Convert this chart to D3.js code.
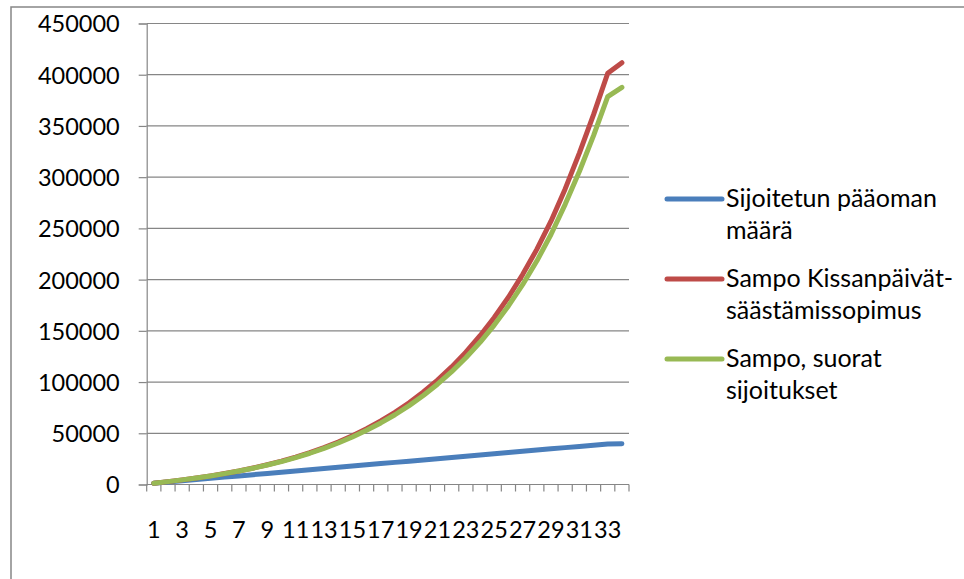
<!DOCTYPE html>
<html>
<head>
<meta charset="utf-8">
<script src="https://cdn.jsdelivr.net/npm/d3@7/dist/d3.min.js"></script>
<style>
  html, body { margin: 0; padding: 0; background: #fff; }
  svg { display: block; }
  text { font-family: Lato, "Open Sans", sans-serif; fill: #000; }
</style>
</head>
<body>
<svg id="chart" width="964" height="579"></svg>
<script>
// Years of saving
const categories = [1,2,3,4,5,6,7,8,9,10,11,12,13,14,15,16,17,18,19,20,21,22,23,24,25,26,27,28,29,30,31,32,33,34];

// Invested capital (euro)
const paaoma = [1200,2400,3600,4800,6000,7200,8400,9600,10800,12000,13200,14400,15600,16800,18000,19200,20400,21600,22800,24000,25200,26400,27600,28800,30000,31200,32400,33600,34800,36000,37200,38400,39600,39800];

// Sampo Kissanpäivät savings agreement
const kissanpaivat = [1300,2800,4500,6300,8400,10700,13200,16100,19300,22800,26700,31100,36000,41500,47600,54400,62000,70400,79800,90300,101900,114800,129200,145200,163000,182800,204900,229500,257000,288500,323500,361000,401400,411800];

// Sampo, direct investments
const suorat = [1300,2800,4500,6300,8300,10600,13100,15900,19000,22400,26300,30500,35300,40500,46400,52900,60100,68100,77000,86900,97900,110100,123700,138800,155600,174300,195000,218100,244000,273500,305500,340500,378600,387700];

const yTicks = [0,50000,100000,150000,200000,250000,300000,350000,400000,450000];
const xTickLabels = ["1","3","5","7","9","11","13","15","17","19","21","23","25","27","29","31","33"];

const seriesNames = ["Sijoitetun pääoman määrä", "Sampo Kissanpäivät-säästämissopimus", "Sampo, suorat sijoitukset"];
const legendLines = [["Sijoitetun pääoman", "määrä"], ["Sampo Kissanpäivät-", "säästämissopimus"], ["Sampo, suorat", "sijoitukset"]];
const seriesColors = ["#4A7EBB", "#BE4B48", "#98B954"];

const svg = d3.select("#chart");
const gridColor = "#868686";
const axisFont = 23.5;
const legendFont = 25;

// outer chart frame (runs past the right and bottom edge)
svg.append("rect")
  .attr("x", 11).attr("y", 7)
  .attr("width", 1100).attr("height", 700)
  .attr("fill", "none").attr("stroke", gridColor).attr("stroke-width", 1.5);

const plot = { left: 146.7, right: 629, top: 23.5, bottom: 484.5 };

const x = d3.scaleBand().domain(categories).range([plot.left, plot.right]).padding(0);
const y = d3.scaleLinear().domain([0, 450000]).range([plot.bottom, plot.top]);
const cx = c => x(c) + x.bandwidth() / 2;

// horizontal gridlines
svg.append("g").selectAll("line")
  .data(yTicks.filter(v => v > 0))
  .join("line")
  .attr("x1", plot.left).attr("x2", plot.right)
  .attr("y1", d => y(d)).attr("y2", d => y(d))
  .attr("stroke", gridColor).attr("stroke-width", 1.2);

// y axis
const yAxis = svg.append("g")
  .attr("transform", `translate(${plot.left},0)`)
  .call(d3.axisLeft(y).tickValues(yTicks).tickSize(8).tickPadding(19).tickFormat(d3.format("d")));
yAxis.select(".domain").attr("stroke", gridColor).attr("stroke-width", 1.2);
yAxis.selectAll(".tick line").attr("stroke", gridColor).attr("stroke-width", 1.2);
yAxis.selectAll(".tick text")
  .attr("font-size", axisFont).attr("font-family", "Lato, sans-serif").attr("fill", "#000")
  .attr("dy", "0.36em");

// x axis line with ticks on the category boundaries
const xg = svg.append("g");
xg.append("line")
  .attr("x1", plot.left).attr("x2", plot.right)
  .attr("y1", plot.bottom).attr("y2", plot.bottom)
  .attr("stroke", gridColor).attr("stroke-width", 1.2);
const boundaries = categories.map(c => x(c)).concat([plot.right]);
xg.selectAll("line.tk")
  .data(boundaries)
  .join("line").attr("class", "tk")
  .attr("x1", d => d).attr("x2", d => d)
  .attr("y1", plot.bottom).attr("y2", plot.bottom + 7)
  .attr("stroke", gridColor).attr("stroke-width", 1.2);
xg.selectAll("text")
  .data(xTickLabels)
  .join("text")
  .attr("x", d => cx(+d))
  .attr("y", 538)
  .attr("text-anchor", "middle")
  .attr("font-size", axisFont)
  .text(d => d);

// series lines
const allSeries = [paaoma, kissanpaivat, suorat];
const line = d3.line().x((d, i) => cx(categories[i])).y(d => y(d));
svg.append("g").selectAll("path")
  .data(allSeries)
  .join("path")
  .attr("d", d => line(d))
  .attr("fill", "none")
  .attr("stroke", (d, i) => seriesColors[i])
  .attr("stroke-width", 5)
  .attr("stroke-linejoin", "round")
  .attr("stroke-linecap", "round");

// legend
const legend = svg.append("g");
const legendY = [199, 279, 359];
seriesNames.forEach((name, i) => {
  const g = legend.append("g");
  g.append("line")
    .attr("x1", 667).attr("x2", 722)
    .attr("y1", legendY[i]).attr("y2", legendY[i])
    .attr("stroke", seriesColors[i]).attr("stroke-width", 5)
    .attr("stroke-linecap", "round");
  const t = g.append("text").attr("x", 726).attr("y", legendY[i] + 8).attr("font-size", legendFont);
  legendLines[i].forEach((ln, j) => {
    t.append("tspan").attr("x", 726).attr("dy", j === 0 ? 0 : 31.5).text(ln);
  });
});
</script>
</body>
</html>
